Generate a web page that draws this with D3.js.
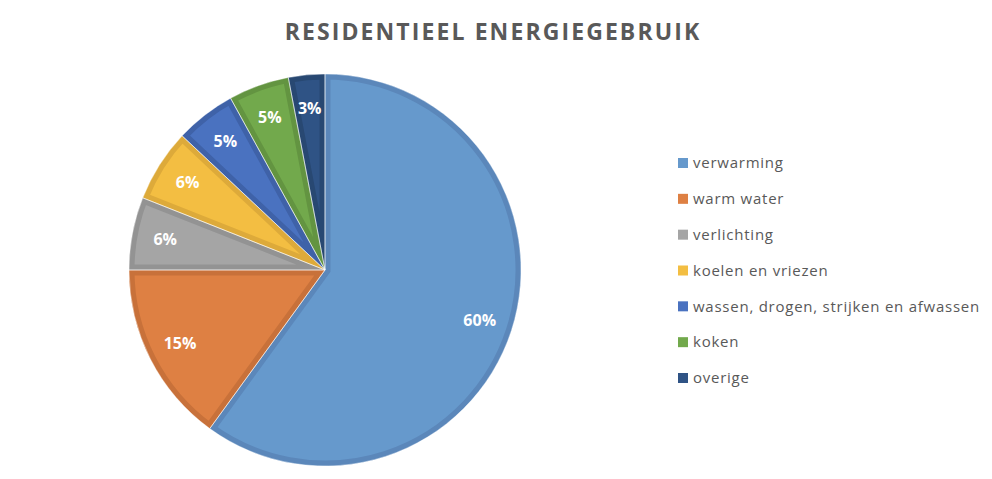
<!DOCTYPE html>
<html>
<head>
<meta charset="utf-8">
<script src="https://cdn.jsdelivr.net/npm/d3@7.9.0/dist/d3.min.js"></script>
<style>
  body { margin: 0; background: #fff; }
  svg { display: block; }
</style>
</head>
<body>
<svg id="chart" width="992" height="479"></svg>
<script>
// Chart data
const categories = ["verwarming", "warm water", "verlichting", "koelen en vriezen",
  "wassen, drogen, strijken en afwassen", "koken", "overige"];
const shares = [60, 15, 6, 6, 5, 5, 3];
const fills = ["#6699CC", "#DE8043", "#A5A5A5", "#F3BE42", "#4A72C0", "#72A94C", "#2F5385"];
const edges = ["#5B87BA", "#C8713A", "#939393", "#DDAA3A", "#3F62A8", "#639441", "#284872"];
const title = "RESIDENTIEEL ENERGIEGEBRUIK";

const svg = d3.select("#chart");
const cx = 325, cy = 270, radius = 196;

// Title
svg.append("text")
   .attr("x", 493).attr("y", 40)
   .attr("text-anchor", "middle")
   .attr("font-family", "'Open Sans', sans-serif")
   .attr("font-weight", "bold")
   .attr("font-size", 23)
   .attr("letter-spacing", 2.1)
   .attr("fill", "#595959")
   .text(title);

// Pie slices, starting at 12 o'clock and going clockwise
const pie = d3.pie().sort(null).value(d => d);
const arcs = pie(shares);
const arcGen = d3.arc().innerRadius(0).outerRadius(radius);
const labelArc = d3.arc().innerRadius(radius * 0.83).outerRadius(radius * 0.83);

const defs = svg.append("defs");
const g = svg.append("g").attr("transform", `translate(${cx},${cy})`);

arcs.forEach((a, i) => {
    defs.append("clipPath").attr("id", "clip" + i)
        .append("path").attr("d", arcGen(a));
    g.append("path")
     .attr("d", arcGen(a))
     .attr("fill", fills[i])
     .attr("stroke", edges[i])
     .attr("stroke-width", 11)
     .attr("stroke-linejoin", "miter")
     .attr("clip-path", `url(#clip${i})`);
});

// thin light separators
g.selectAll("path.sep")
 .data(arcs)
 .join("path")
 .attr("class", "sep")
 .attr("d", arcGen)
 .attr("fill", "none")
 .attr("stroke", "#ffffff")
 .attr("stroke-opacity", 0.6)
 .attr("stroke-width", 0.8);

// Percentage labels
g.selectAll("text.pct")
 .data(arcs)
 .join("text")
 .attr("class", "pct")
 .attr("transform", d => `translate(${labelArc.centroid(d)})`)
 .attr("text-anchor", "middle")
 .attr("dy", "0.35em")
 .attr("font-family", "'Open Sans', sans-serif")
 .attr("font-weight", "bold")
 .attr("font-size", 16)
 .attr("fill", "#ffffff")
 .text(d => d.data + "%");

// Legend
const legend = svg.append("g").attr("transform", "translate(678,163)");
const rowY = d3.scalePoint().domain(categories).range([0, 215]);
const rows = legend.selectAll("g.row")
    .data(categories)
    .join("g")
    .attr("class", "row")
    .attr("transform", d => `translate(0,${rowY(d)})`);
rows.append("rect")
    .attr("x", 0).attr("y", -5)
    .attr("width", 10).attr("height", 10)
    .attr("fill", (d, i) => fills[i]);
rows.append("text")
    .attr("x", 15).attr("dy", "0.35em")
    .attr("font-family", "'Open Sans', sans-serif")
    .attr("font-size", 15)
    .attr("letter-spacing", 0.75)
    .attr("fill", "#595959")
    .text(d => d);
</script>
</body>
</html>
